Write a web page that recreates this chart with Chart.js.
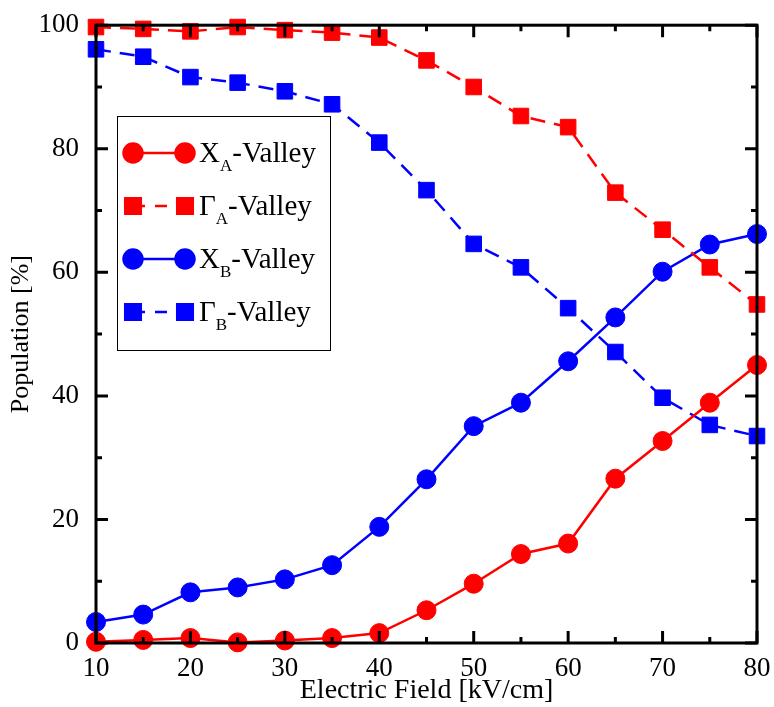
<!DOCTYPE html>
<html>
<head>
<meta charset="utf-8">
<script src="https://cdn.jsdelivr.net/npm/chart.js@4"></script>
<style>
  html, body { margin: 0; padding: 0; background: #fff; }
  #wrap { width: 774px; height: 707px; }
</style>
</head>
<body>
<div id="wrap"><canvas id="popChart"></canvas></div>
<script>
// electric field [kV/cm]
const fields = [10, 15, 20, 25, 30, 35, 40, 45, 50, 55, 60, 65, 70, 75, 80];
// valley populations [%]
const xA = [0.2, 0.5, 0.8, 0.1, 0.4, 0.8, 1.6, 5.3, 9.6, 14.4, 16.1, 26.6, 32.7, 38.9, 45.0];
const gammaA = [99.7, 99.4, 99.0, 99.7, 99.2, 98.8, 98.0, 94.3, 90.0, 85.3, 83.5, 72.9, 66.9, 60.8, 54.8];
const xB = [3.4, 4.6, 8.2, 9.0, 10.3, 12.6, 18.8, 26.5, 35.1, 38.9, 45.6, 52.7, 60.1, 64.5, 66.2];
const gammaB = [96.1, 94.9, 91.6, 90.7, 89.3, 87.2, 81.0, 73.3, 64.6, 60.8, 54.2, 47.1, 39.7, 35.3, 33.5];

const xTicks = [10, 20, 30, 40, 50, 60, 70, 80];
const yTicks = [0, 20, 40, 60, 80, 100];

const serif = '"Liberation Serif", "Times New Roman", serif';
const RED = '#ff0000';
const BLUE = '#0000ff';
const DASH = [15, 9];

const pts = arr => fields.map((f, i) => ({ x: f, y: arr[i] }));

const series = [
  { name: 'X', sub: 'A', data: xA, color: RED, dash: [], style: 'circle', r: 9.5 },
  { name: '\u0393', sub: 'A', data: gammaA, color: RED, dash: DASH, style: 'rect', r: 11 },
  { name: 'X', sub: 'B', data: xB, color: BLUE, dash: [], style: 'circle', r: 9.5 },
  { name: '\u0393', sub: 'B', data: gammaB, color: BLUE, dash: DASH, style: 'rect', r: 11 }
];

// frame + inward ticks on all four sides
const frameTicks = {
  id: 'frameTicks',
  afterDatasetsDraw(chart) {
    const { ctx, chartArea: a, scales: { x, y } } = chart;
    ctx.save();
    ctx.strokeStyle = '#000';
    ctx.lineWidth = 3;
    ctx.beginPath();
    for (let v = 10; v <= 80; v += 5) {
      const px = x.getPixelForValue(v);
      const len = v % 10 === 0 ? 12 : 6;
      ctx.moveTo(px, a.bottom); ctx.lineTo(px, a.bottom - len);
      ctx.moveTo(px, a.top); ctx.lineTo(px, a.top + len);
    }
    for (let v = 0; v <= 100; v += 10) {
      const py = y.getPixelForValue(v);
      const len = v % 20 === 0 ? 12 : 6;
      ctx.moveTo(a.left, py); ctx.lineTo(a.left + len, py);
      ctx.moveTo(a.right, py); ctx.lineTo(a.right - len, py);
    }
    ctx.stroke();
    ctx.strokeRect(a.left, a.top, a.right - a.left, a.bottom - a.top);
    ctx.restore();
  }
};

// boxed legend with line samples and subscripted names
const valleyLegend = {
  id: 'valleyLegend',
  afterDraw(chart) {
    const ctx = chart.ctx;
    ctx.save();
    ctx.fillStyle = '#fff';
    ctx.fillRect(117.5, 116.5, 213, 234);
    ctx.strokeStyle = '#000';
    ctx.lineWidth = 1;
    ctx.strokeRect(117.5, 116.5, 213, 234);
    series.forEach((s, i) => {
      const cy = 153 + i * 53;
      ctx.strokeStyle = s.color;
      ctx.fillStyle = s.color;
      ctx.lineWidth = 2.5;
      ctx.setLineDash(s.dash.length ? [12, 10] : []);
      ctx.beginPath();
      ctx.moveTo(133, cy); ctx.lineTo(185, cy);
      ctx.stroke();
      ctx.setLineDash([]);
      [133, 185].forEach(cx => {
        Chart.helpers.drawPoint(ctx, { pointStyle: s.style, radius: s.r, borderWidth: 1 }, cx, cy);
        ctx.fill();
      });
      ctx.fillStyle = '#000';
      ctx.textBaseline = 'alphabetic';
      const base = cy + 9;
      ctx.font = '29px ' + serif;
      ctx.fillText(s.name, 199, base);
      const w1 = ctx.measureText(s.name).width;
      ctx.font = '17px ' + serif;
      ctx.fillText(s.sub, 199 + w1, base + 9);
      const w2 = ctx.measureText(s.sub).width;
      ctx.font = '29px ' + serif;
      ctx.fillText('-Valley', 199 + w1 + w2, base);
    });
    ctx.restore();
  }
};

new Chart(document.getElementById('popChart'), {
  type: 'line',
  data: {
    datasets: series.map(s => ({
      label: s.name + s.sub + '-Valley',
      data: pts(s.data),
      borderColor: s.color,
      backgroundColor: s.color,
      pointBackgroundColor: s.color,
      pointBorderColor: s.color,
      borderWidth: 2.5,
      borderDash: s.dash,
      pointStyle: s.style,
      pointRadius: s.r,
      pointBorderWidth: 1,
      tension: 0,
      clip: false
    }))
  },
  options: {
    responsive: true,
    maintainAspectRatio: false,
    animation: false,
    layout: { padding: { top: 21, right: 17, left: 0, bottom: 0 } },
    plugins: { legend: { display: false }, tooltip: { enabled: false } },
    scales: {
      x: {
        type: 'linear',
        min: 10, max: 80,
        afterFit: s => { s.height = 64; },
        afterBuildTicks: s => { s.ticks = xTicks.map(v => ({ value: v })); },
        grid: { display: false },
        border: { display: false },
        ticks: { color: '#000', padding: 2, font: { family: serif, size: 27 }, maxRotation: 0 },
        title: { display: true, text: 'Electric Field [kV/cm]', color: '#000', padding: { top: -8, bottom: 0 }, font: { family: serif, size: 28 } }
      },
      y: {
        min: 0, max: 100,
        afterFit: s => { s.width = 96; },
        afterBuildTicks: s => { s.ticks = yTicks.map(v => ({ value: v })); },
        grid: { display: false },
        border: { display: false },
        ticks: { color: '#000', padding: 9, font: { family: serif, size: 27 } },
        title: { display: true, text: 'Population [%]', color: '#000', padding: { top: 6, bottom: 0 }, font: { family: serif, size: 26 } }
      }
    }
  },
  plugins: [frameTicks, valleyLegend]
});
</script>
</body>
</html>
